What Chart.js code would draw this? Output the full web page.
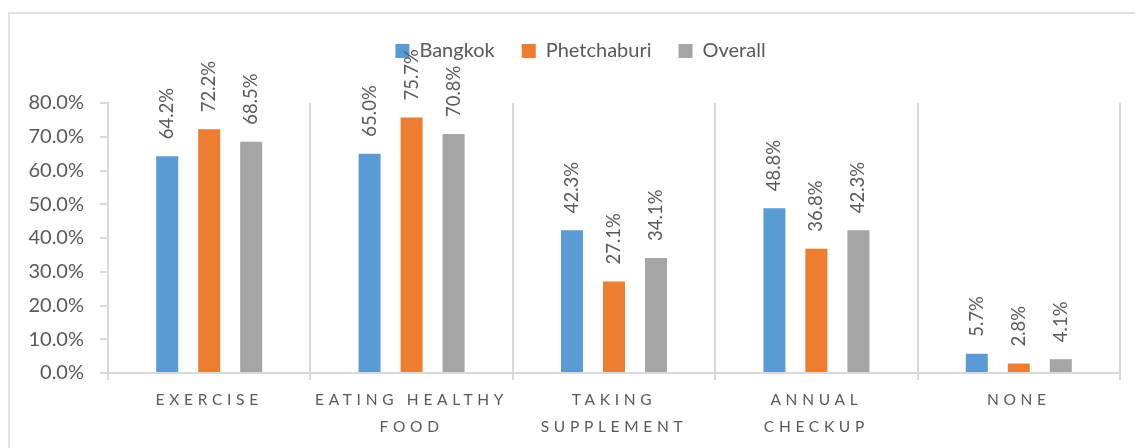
<!DOCTYPE html>
<html>
<head>
<meta charset="utf-8">
<script src="https://cdn.jsdelivr.net/npm/chart.js@4.4.1/dist/chart.umd.min.js"></script>
<style>
  html, body { margin: 0; padding: 0; background: #ffffff; }
  #wrap { width: 1135px; height: 448px; position: relative; }
</style>
</head>
<body>
<div id="wrap"><canvas id="c" width="1135" height="448"></canvas></div>
<script>
const categories = [["EXERCISE"], ["EATING HEALTHY", "FOOD"], ["TAKING", "SUPPLEMENT"], ["ANNUAL", "CHECKUP"], ["NONE"]];
const seriesNames = ["Bangkok", "Phetchaburi", "Overall"];
const bangkok = [64.2, 65.0, 42.3, 48.8, 5.7];
const phetchaburi = [72.2, 75.7, 27.1, 36.8, 2.8];
const overall = [68.5, 70.8, 34.1, 42.3, 4.1];
const yTicks = [0, 10, 20, 30, 40, 50, 60, 70, 80];
const colors = ["#5B9BD5", "#ED7D31", "#A5A5A5"];

const TEXT = "#595959";
const LINE = "#d9d9d9";
Chart.defaults.font.family = "Lato, 'Open Sans', sans-serif";

const borderPlugin = {
  id: "outerBorder",
  beforeDraw(chart) {
    const ctx = chart.ctx;
    ctx.save();
    ctx.fillStyle = "#ffffff";
    ctx.fillRect(0, 0, chart.width, chart.height);
    ctx.strokeStyle = "#e3e3e3";
    ctx.lineWidth = 2;
    ctx.strokeRect(9, 13, chart.width + 20, chart.height + 20);
    ctx.restore();
    const s = chart.scales.x;
    if (s && !s.__ls) {
      const orig = s.drawLabels;
      s.drawLabels = function (area) {
        const c = this.ctx;
        const prev = c.letterSpacing;
        c.letterSpacing = "4.7px";
        orig.call(this, area);
        c.letterSpacing = prev || "0px";
      };
      s.__ls = true;
    }
  }
};

const legendFix = {
  id: "legendFix",
  beforeLayout(chart) {
    const lg = chart.legend;
    if (lg && !lg.__fixed) {
      const orig = lg.fit;
      lg.fit = function () { orig.call(this); this.height = 89; };
      lg.__fixed = true;
    }
  },
  afterLayout(chart) {
    const lg = chart.legend;
    if (lg) { lg.left += 13; lg.right += 13; }
  }
};

const valueLabels = {
  id: "valueLabels",
  afterDatasetsDraw(chart) {
    const ctx = chart.ctx;
    ctx.save();
    ctx.fillStyle = TEXT;
    ctx.font = "18.5px Lato, sans-serif";
    ctx.textAlign = "left";
    ctx.textBaseline = "middle";
    chart.data.datasets.forEach((ds, di) => {
      const meta = chart.getDatasetMeta(di);
      meta.data.forEach((bar, i) => {
        const v = ds.data[i];
        ctx.save();
        ctx.translate(bar.x, bar.y - 17);
        ctx.rotate(-Math.PI / 2);
        ctx.fillText(v.toFixed(1) + "%", 0, 0);
        ctx.restore();
      });
    });
    ctx.restore();
  }
};

const seriesData = [bangkok, phetchaburi, overall];

function start() {
  new Chart(document.getElementById("c"), {
    type: "bar",
    data: {
      labels: categories,
      datasets: seriesNames.map((n, i) => ({
        label: n,
        data: seriesData[i],
        backgroundColor: colors[i],
        borderWidth: 0,
        categoryPercentage: 0.6225,
        barPercentage: 0.524
      }))
    },
    options: {
      responsive: false,
      animation: false,
      devicePixelRatio: 1,
      layout: { padding: { left: 15, right: 15, top: 14, bottom: 0 } },
      plugins: {
        legend: {
          position: "top",
          align: "center",
          labels: {
            boxWidth: 14,
            boxHeight: 14,
            padding: 27,
            color: TEXT,
            font: { size: 20 }
          }
        },
        tooltip: { enabled: false }
      },
      scales: {
        x: {
          offset: true,
          grid: {
            offset: true,
            drawOnChartArea: true,
            drawTicks: true,
            tickLength: 7,
            color: LINE,
            lineWidth: 2
          },
          border: { display: true, color: LINE, width: 2 },
          ticks: {
            color: TEXT,
            font: { size: 15.5, lineHeight: 1.75 },
            padding: 6,
            maxRotation: 0,
            autoSkip: false
          },
          afterFit(scale) { scale.height = 75; }
        },
        y: {
          min: 0,
          max: 80,
          afterBuildTicks(scale) { scale.ticks = yTicks.map(v => ({ value: v })); },
          grid: {
            drawOnChartArea: false,
            drawTicks: true,
            tickLength: 8,
            color: LINE,
            lineWidth: 2
          },
          border: { display: true, color: LINE, width: 2 },
          ticks: {
            color: TEXT,
            font: { size: 20 },
            padding: 16,
            callback: (v) => Number(v).toFixed(1) + "%"
          },
          afterFit(scale) { scale.width = 93; }
        }
      }
    },
    plugins: [borderPlugin, legendFix, valueLabels]
  });
}

if (document.fonts && document.fonts.load) {
  Promise.all([document.fonts.load("20px Lato"), document.fonts.load("15px Lato")]).then(start, start);
} else { start(); }
</script>
</body>
</html>
